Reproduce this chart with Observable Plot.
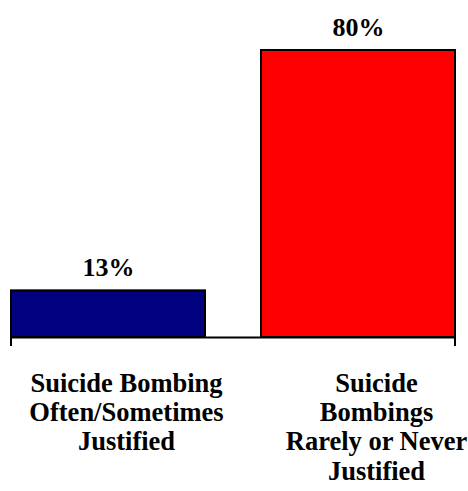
<!DOCTYPE html>
<html>
<head>
<meta charset="utf-8">
<script src="https://cdn.jsdelivr.net/npm/d3@7"></script>
<script src="https://cdn.jsdelivr.net/npm/@observablehq/plot@0.6"></script>
<style>
  html, body { margin: 0; padding: 0; background: #fff; }
  #chart svg { display: block; }
</style>
</head>
<body>
<div id="chart"></div>
<script>
const categories = ["Often/Sometimes", "Rarely/Never"];
const values = [13, 80];
const colors = ["#000080", "#FF0000"];
const tickLabels = [
  "Suicide Bombing\nOften/Sometimes\nJustified",
  "Suicide\nBombings\nRarely or Never\nJustified"
];

const FONT = "Liberation Serif, Times New Roman, DejaVu Serif, serif";

const data = categories.map((c, i) => ({category: c, value: values[i], color: colors[i], label: tickLabels[i]}));
const labelOf = new Map(data.map(d => [d.category, d.label]));

function endTicks(index, scales, values, dims) {
  const g = d3.create("svg:g");
  const y0 = scales.y(0);
  for (const x of [dims.marginLeft, dims.width - dims.marginRight]) {
    g.append("line")
      .attr("x1", x).attr("x2", x)
      .attr("y1", y0).attr("y2", y0 + 9)
      .attr("stroke", "black").attr("stroke-width", 2);
  }
  return g.node();
}

const chart = Plot.plot({
  width: 468,
  height: 491,
  marginLeft: 11,
  marginRight: 13,
  marginTop: 50,
  marginBottom: 154,
  style: {background: "white", color: "black"},
  x: {domain: categories, paddingInner: 0.224, paddingOuter: 0},
  y: {domain: [0, 80], axis: null},
  marks: [
    Plot.barY(data, {x: "category", y: "value", fill: "color", stroke: "black", strokeWidth: 2}),
    Plot.ruleY([0], {stroke: "black", strokeWidth: 2}),
    endTicks,
    Plot.text(data, {x: "category", y: "value", text: d => d.value + "%", dy: -15, lineAnchor: "bottom", fontSize: 26, fontWeight: "bold", fontFamily: FONT, fill: "black"}),
    Plot.axisX({tickSize: 0, tickPadding: 34, dx: 18, fontSize: 26.5, lineHeight: 1.1, fontWeight: "bold", fontFamily: FONT, fill: "black", tickFormat: c => labelOf.get(c), label: null})
  ]
});
chart.querySelectorAll("text").forEach(t => { t.style.fontFamily = FONT; t.style.fontWeight = "bold"; });
document.getElementById("chart").append(chart);
</script>
</body>
</html>
